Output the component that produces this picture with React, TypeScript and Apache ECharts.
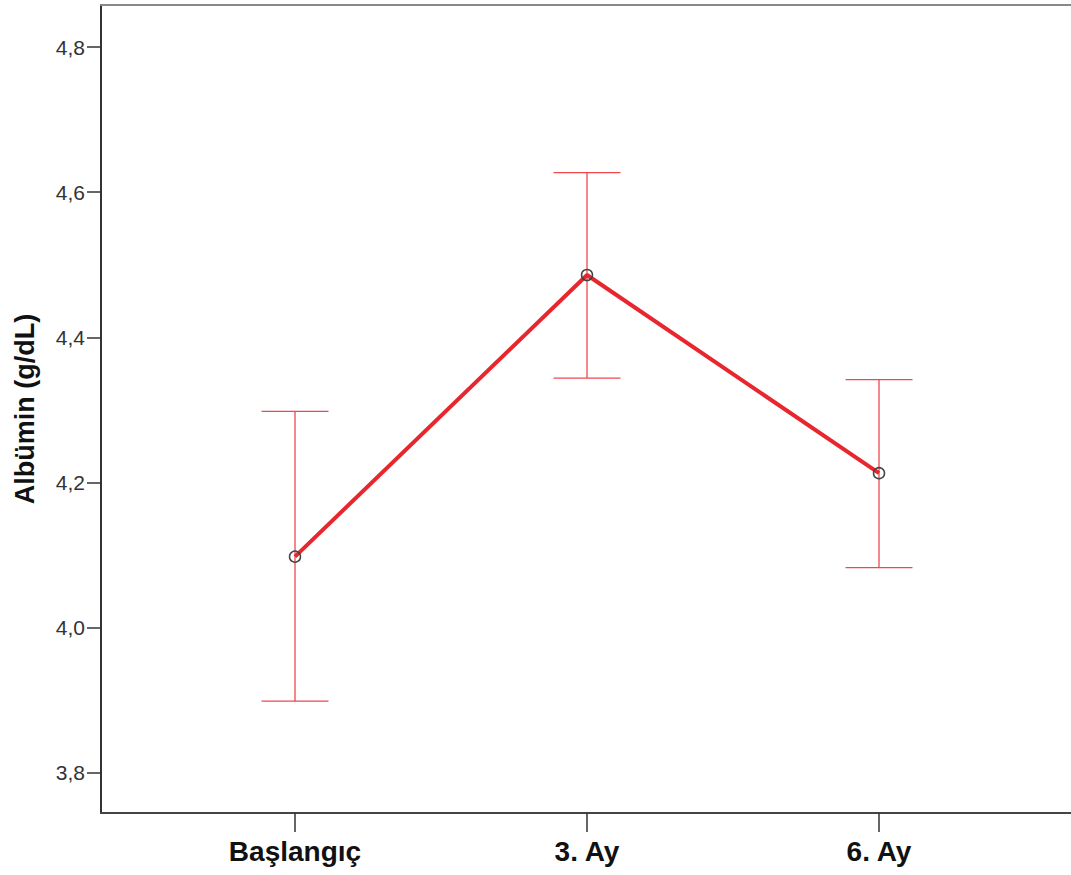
import React, { useEffect, useRef } from "react";
import * as echarts from "echarts";

const categories = ["Başlangıç", "3. Ay", "6. Ay"];
const means = [4.098, 4.486, 4.213];
const lower = [3.899, 4.344, 4.083];
const upper = [4.298, 4.627, 4.342];
const yTicks = [3.8, 4.0, 4.2, 4.4, 4.6, 4.8];

export default function App() {
  const ref = useRef<HTMLDivElement>(null);
  useEffect(() => {
    if (!ref.current) return;
    const chart = echarts.init(ref.current, null, { renderer: "svg" });
    const xPos = categories.map((_, i) => i + 1);
    const font = "Liberation Sans, Arial, sans-serif";
    chart.setOption({
      animation: false,
      backgroundColor: "#ffffff",
      grid: { left: 101, right: 0, top: 5, bottom: 62, containLabel: false },
      xAxis: [
        {
          type: "value",
          min: 0.3356,
          max: 3.6575,
          position: "bottom",
          axisLine: { show: true, onZero: false, lineStyle: { color: "#444", width: 2 } },
          axisTick: { show: true, customValues: xPos, length: 19, lineStyle: { color: "#333", width: 1.5 } },
          axisLabel: {
            customValues: xPos,
            margin: 24,
            fontFamily: font,
            fontWeight: "bold",
            fontSize: 28,
            color: "#111",
            formatter: (v: number) => categories[Math.round(v) - 1] ?? "",
          },
          splitLine: { show: false },
        },
        {
          type: "value",
          min: 0.3356,
          max: 3.6575,
          position: "top",
          axisLine: { show: true, onZero: false, lineStyle: { color: "#888", width: 2 } },
          axisTick: { show: false },
          axisLabel: { show: false },
          splitLine: { show: false },
        },
      ],
      yAxis: {
        type: "value",
        min: 3.7449,
        max: 4.8579,
        name: "Albümin (g/dL)",
        nameLocation: "middle",
        nameGap: 63,
        nameTextStyle: { fontFamily: font, fontWeight: "bold", fontSize: 27, color: "#111" },
        axisLine: { show: true, lineStyle: { color: "#333", width: 2 } },
        axisTick: { show: true, customValues: yTicks, length: 14, lineStyle: { color: "#333", width: 1.5 } },
        axisLabel: {
          customValues: yTicks,
          margin: 16,
          fontFamily: font,
          fontSize: 21,
          color: "#333",
          formatter: (v: number) => v.toFixed(1).replace(".", ","),
        },
        splitLine: { show: false },
      },
      series: [
        {
          type: "custom",
          xAxisIndex: 0,
          data: xPos.map((x, i) => [x, lower[i], upper[i]]),
          renderItem: (params: any, api: any) => {
            const x = api.value(0);
            const lo = api.coord([x, api.value(1)]);
            const hi = api.coord([x, api.value(2)]);
            const hw = 33.5;
            const style = { stroke: "#f0474f", lineWidth: 1.3 };
            return {
              type: "group",
              children: [
                { type: "line", shape: { x1: lo[0], y1: lo[1], x2: hi[0], y2: hi[1] }, style },
                { type: "line", shape: { x1: hi[0] - hw, y1: hi[1], x2: hi[0] + hw, y2: hi[1] }, style },
                { type: "line", shape: { x1: lo[0] - hw, y1: lo[1], x2: lo[0] + hw, y2: lo[1] }, style },
              ],
            };
          },
          z: 1,
        },
        {
          type: "line",
          xAxisIndex: 0,
          data: xPos.map((x, i) => [x, means[i]]),
          lineStyle: { color: "#e8262e", width: 4 },
          symbol: "circle",
          symbolSize: 11,
          itemStyle: { color: "rgba(255,255,255,0)", borderColor: "#444", borderWidth: 1.5 },
          z: 2,
        },
      ],
    });
    return () => chart.dispose();
  }, []);
  return (
    <div
      ref={ref}
      style={{ position: "absolute", left: 0, top: 0, width: 1071, height: 875 }}
    />
  );
}
